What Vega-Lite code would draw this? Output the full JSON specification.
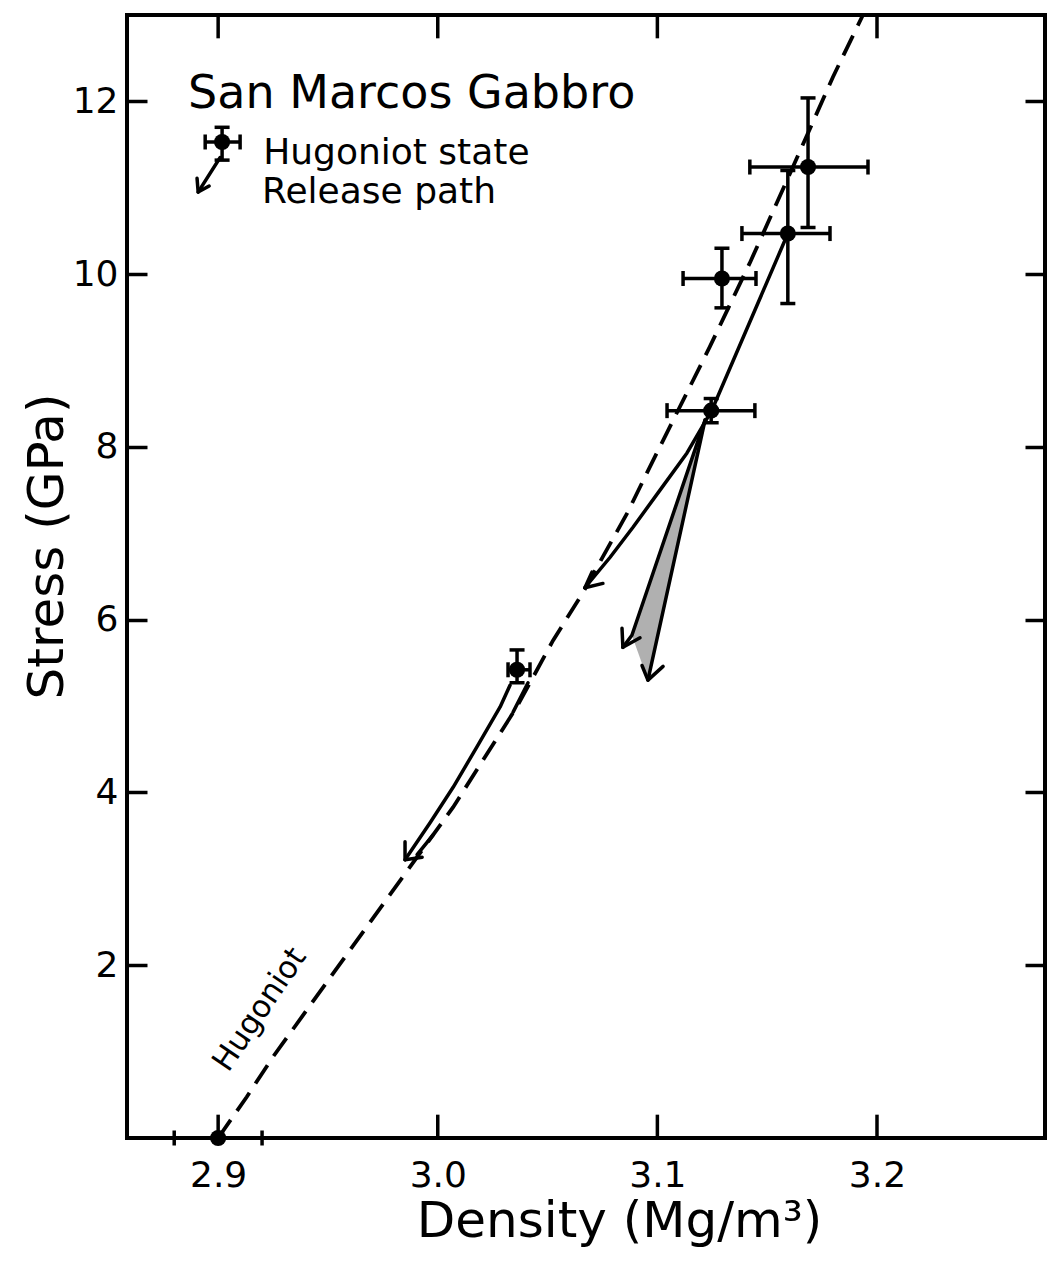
{
  "$schema": "https://vega.github.io/schema/vega-lite/v6.json",
  "width": 918,
  "height": 1123,
  "autosize": {"type": "none"},
  "padding": {"left": 127, "top": 15, "right": 2, "bottom": 125},
  "background": "white",
  "config": {"view": {"stroke": "black", "strokeWidth": 4}, "font": "DejaVu Sans"},
  "datasets": {
    "hug": [
      {"d": 2.900, "s": 0}, {"d": 2.913, "s": 0.475}, {"d": 2.925, "s": 0.94},
      {"d": 2.984, "s": 3.02}, {"d": 3.007, "s": 3.83}, {"d": 3.036, "s": 4.99},
      {"d": 3.0525, "s": 5.76}, {"d": 3.066, "s": 6.31}, {"d": 3.0862, "s": 7.23},
      {"d": 3.0966, "s": 7.77}, {"d": 3.1239, "s": 9.16}, {"d": 3.1421, "s": 10.13},
      {"d": 3.1617, "s": 11.24}, {"d": 3.1799, "s": 12.28}, {"d": 3.1936, "s": 13.0}
    ],
    "xticks": [{"d": 2.9}, {"d": 3.0}, {"d": 3.1}, {"d": 3.2}],
    "pts": [
      {"g": "A", "d": 3.1686, "s": 11.24, "dlo": 3.1421, "dhi": 3.1959, "slo": 10.54, "shi": 12.04},
      {"g": "B", "d": 3.1594, "s": 10.47, "dlo": 3.1385, "dhi": 3.1786, "slo": 9.66, "shi": 11.20},
      {"g": "C", "d": 3.1294, "s": 9.95, "dlo": 3.1117, "dhi": 3.1449, "slo": 9.61, "shi": 10.30},
      {"g": "D", "d": 3.1245, "s": 8.42, "dlo": 3.1044, "dhi": 3.1444, "slo": 8.28, "shi": 8.56},
      {"g": "E", "d": 3.0361, "s": 5.42, "dlo": 3.032, "dhi": 3.042, "slo": 5.27, "shi": 5.65},
      {"g": "F", "d": 2.900, "s": 0, "dlo": 2.880, "dhi": 2.920, "slo": null, "shi": null},
      {"g": "legend", "d": 2.9018, "s": 11.53, "dlo": 2.8941, "dhi": 2.9100, "slo": 11.32, "shi": 11.70}
    ],
    "paths": [
      {"p": "relB", "i": 0, "d": 3.1594, "s": 10.47},
      {"p": "relB", "i": 1, "d": 3.1249, "s": 8.43},
      {"p": "relB", "i": 2, "d": 3.1135, "s": 7.93},
      {"p": "relB", "i": 3, "d": 3.1012, "s": 7.50},
      {"p": "relB", "i": 4, "d": 3.0889, "s": 7.07},
      {"p": "relB", "i": 5, "d": 3.0784, "s": 6.72},
      {"p": "relB", "i": 6, "d": 3.0670, "s": 6.37},
      {"p": "arrB", "i": 0, "d": 3.0702, "s": 6.55},
      {"p": "arrB", "i": 1, "d": 3.0670, "s": 6.37},
      {"p": "arrB", "i": 2, "d": 3.0752, "s": 6.42},
      {"p": "wL", "i": 0, "d": 3.1217, "s": 8.31},
      {"p": "wL", "i": 1, "d": 3.0884, "s": 5.82},
      {"p": "wL", "i": 2, "d": 3.0843, "s": 5.68},
      {"p": "arrWL", "i": 0, "d": 3.0839, "s": 5.90},
      {"p": "arrWL", "i": 1, "d": 3.0843, "s": 5.68},
      {"p": "arrWL", "i": 2, "d": 3.0921, "s": 5.79},
      {"p": "wR", "i": 0, "d": 3.1217, "s": 8.31},
      {"p": "wR", "i": 1, "d": 3.0957, "s": 5.30},
      {"p": "arrWR", "i": 0, "d": 3.0930, "s": 5.47},
      {"p": "arrWR", "i": 1, "d": 3.0957, "s": 5.30},
      {"p": "arrWR", "i": 2, "d": 3.1026, "s": 5.46},
      {"p": "relE", "i": 0, "d": 3.0329, "s": 5.24},
      {"p": "relE", "i": 1, "d": 3.0284, "s": 4.99},
      {"p": "relE", "i": 2, "d": 3.0179, "s": 4.53},
      {"p": "relE", "i": 3, "d": 3.0070, "s": 4.06},
      {"p": "relE", "i": 4, "d": 2.9965, "s": 3.65},
      {"p": "relE", "i": 5, "d": 2.9851, "s": 3.22},
      {"p": "arrE", "i": 0, "d": 2.9851, "s": 3.43},
      {"p": "arrE", "i": 1, "d": 2.9851, "s": 3.22},
      {"p": "arrE", "i": 2, "d": 2.9929, "s": 3.25},
      {"p": "hookE", "i": 0, "d": 3.0411, "s": 5.27},
      {"p": "hookE", "i": 1, "d": 3.0343, "s": 4.93},
      {"p": "hookE2", "i": 0, "d": 2.9979, "s": 3.51},
      {"p": "hookE2", "i": 1, "d": 2.9906, "s": 3.28},
      {"p": "legRel", "i": 0, "d": 2.9009, "s": 11.35},
      {"p": "legRel", "i": 1, "d": 2.8909, "s": 10.95},
      {"p": "legArr", "i": 0, "d": 2.8904, "s": 11.11},
      {"p": "legArr", "i": 1, "d": 2.8909, "s": 10.95},
      {"p": "legArr", "i": 2, "d": 2.8959, "s": 11.02}
    ],
    "wedge": [
      {"s": 8.31, "xl": 3.1217, "xr": 3.1217},
      {"s": 5.82, "xl": 3.0884, "xr": 3.1002},
      {"s": 5.30, "xl": 3.0957, "xr": 3.0957}
    ],
    "labels": [
      {"k": "title", "d": 2.8863, "s": 11.92, "t": "San Marcos Gabbro"},
      {"k": "leg", "d": 2.9205, "s": 11.28, "t": "Hugoniot state"},
      {"k": "leg", "d": 2.9200, "s": 10.82, "t": "Release path"},
      {"k": "hl", "d": 2.9046, "s": 0.75, "t": "Hugoniot"}
    ]
  },
  "resolve": {"axis": {"x": "independent", "y": "independent"}},
  "layer": [
    {
      "data": {"name": "hug"},
      "mark": {"type": "line", "strokeDash": [22, 11], "strokeWidth": 3.8, "color": "black"},
      "encoding": {
        "x": {"field": "d", "type": "quantitative",
          "scale": {"domain": [2.8585, 3.2765], "nice": false, "zero": false},
          "axis": {"orient": "bottom", "values": [2.9, 3.0, 3.1, 3.2], "format": ".1f", "ticks": false,
            "domain": false, "grid": false,
            "labelFontSize": 36, "labelColor": "black", "labelPadding": 20, "labelFont": "DejaVu Sans",
            "title": "Density (Mg/m³)", "titleFontSize": 50, "titleFontWeight": "normal", "titleColor": "black",
            "titleFont": "DejaVu Sans", "titleX": 492, "titleY": 98, "titleBaseline": "alphabetic", "titleAlign": "center"}},
        "y": {"field": "s", "type": "quantitative",
          "scale": {"domain": [0, 13], "nice": false, "zero": false},
          "axis": {"orient": "left", "values": [2, 4, 6, 8, 10, 12], "format": "d", "ticks": true, "zindex": 1,
            "tickSize": -20, "tickWidth": 3.5, "tickColor": "black", "domain": false, "grid": false,
            "labelFontSize": 36, "labelColor": "black", "labelPadding": 29, "labelFont": "DejaVu Sans",
            "title": "Stress (GPa)", "titleFontSize": 50, "titleFontWeight": "normal", "titleColor": "black",
            "titleFont": "DejaVu Sans", "titleX": -65, "titleY": 531, "titleAngle": -90,
            "titleBaseline": "alphabetic", "titleAlign": "center"}},
        "order": {"field": "s", "type": "quantitative"}
      }
    },
    {
      "data": {"name": "xticks"},
      "mark": {"type": "rule", "strokeWidth": 3.5, "color": "black"},
      "encoding": {
        "x": {"field": "d", "type": "quantitative", "axis": null},
        "y": {"datum": 0, "type": "quantitative", "axis": null},
        "y2": {"datum": 0.27}
      }
    },
    {
      "data": {"name": "xticks"},
      "mark": {"type": "rule", "strokeWidth": 3.5, "color": "black"},
      "encoding": {
        "x": {"field": "d", "type": "quantitative", "axis": null},
        "y": {"datum": 13, "type": "quantitative", "axis": null},
        "y2": {"datum": 12.73}
      }
    },
    {
      "data": {"name": "wedge"},
      "mark": {"type": "area", "orient": "horizontal", "color": "#b0b0b0"},
      "encoding": {
        "y": {"field": "s", "type": "quantitative", "axis": null},
        "x": {"field": "xl", "type": "quantitative", "axis": null},
        "x2": {"field": "xr"}
      }
    },
    {
      "data": {"name": "paths"},
      "mark": {"type": "line", "strokeWidth": 3.5, "color": "black", "strokeCap": "round", "strokeJoin": "round"},
      "encoding": {
        "x": {"field": "d", "type": "quantitative", "axis": null},
        "y": {"field": "s", "type": "quantitative", "axis": null},
        "detail": {"field": "p", "type": "nominal"},
        "order": {"field": "i", "type": "quantitative"}
      }
    },
    {
      "data": {"name": "pts"},
      "mark": {"type": "rule", "strokeWidth": 3.5, "color": "black"},
      "encoding": {
        "x": {"field": "dlo", "type": "quantitative", "axis": null},
        "x2": {"field": "dhi"},
        "y": {"field": "s", "type": "quantitative", "axis": null}
      }
    },
    {
      "data": {"name": "pts"},
      "mark": {"type": "rule", "strokeWidth": 3.5, "color": "black"},
      "encoding": {
        "x": {"field": "d", "type": "quantitative", "axis": null},
        "y": {"field": "slo", "type": "quantitative", "axis": null},
        "y2": {"field": "shi"}
      }
    },
    {
      "data": {"name": "pts"},
      "mark": {"type": "tick", "orient": "vertical", "size": 15, "thickness": 3.5, "color": "black", "opacity": 1},
      "encoding": {
        "x": {"field": "dlo", "type": "quantitative", "axis": null},
        "y": {"field": "s", "type": "quantitative", "axis": null}
      }
    },
    {
      "data": {"name": "pts"},
      "mark": {"type": "tick", "orient": "vertical", "size": 15, "thickness": 3.5, "color": "black", "opacity": 1},
      "encoding": {
        "x": {"field": "dhi", "type": "quantitative", "axis": null},
        "y": {"field": "s", "type": "quantitative", "axis": null}
      }
    },
    {
      "data": {"name": "pts"},
      "mark": {"type": "tick", "orient": "horizontal", "size": 15, "thickness": 3.5, "color": "black", "opacity": 1},
      "encoding": {
        "x": {"field": "d", "type": "quantitative", "axis": null},
        "y": {"field": "slo", "type": "quantitative", "axis": null}
      }
    },
    {
      "data": {"name": "pts"},
      "mark": {"type": "tick", "orient": "horizontal", "size": 15, "thickness": 3.5, "color": "black", "opacity": 1},
      "encoding": {
        "x": {"field": "d", "type": "quantitative", "axis": null},
        "y": {"field": "shi", "type": "quantitative", "axis": null}
      }
    },
    {
      "data": {"name": "pts"},
      "mark": {"type": "circle", "size": 260, "color": "black", "opacity": 1},
      "encoding": {
        "x": {"field": "d", "type": "quantitative",
          "scale": {"domain": [2.8585, 3.2765], "nice": false, "zero": false},
          "axis": null},
        "y": {"field": "s", "type": "quantitative",
          "scale": {"domain": [0, 13], "nice": false, "zero": false},
          "axis": {"orient": "right", "values": [2, 4, 6, 8, 10, 12], "labels": false, "ticks": true, "zindex": 1,
            "tickSize": -20, "tickWidth": 3.5, "tickColor": "black", "domain": false, "grid": false, "title": null}}
      }
    },
    {
      "data": {"name": "labels"},
      "transform": [{"filter": "datum.k == 'title'"}],
      "mark": {"type": "text", "fontSize": 46, "align": "left", "baseline": "alphabetic", "color": "black", "font": "DejaVu Sans"},
      "encoding": {
        "x": {"field": "d", "type": "quantitative", "axis": null},
        "y": {"field": "s", "type": "quantitative", "axis": null},
        "text": {"field": "t"}
      }
    },
    {
      "data": {"name": "labels"},
      "transform": [{"filter": "datum.k == 'leg'"}],
      "mark": {"type": "text", "fontSize": 36, "align": "left", "baseline": "alphabetic", "color": "black", "font": "DejaVu Sans"},
      "encoding": {
        "x": {"field": "d", "type": "quantitative", "axis": null},
        "y": {"field": "s", "type": "quantitative", "axis": null},
        "text": {"field": "t"}
      }
    },
    {
      "data": {"name": "labels"},
      "transform": [{"filter": "datum.k == 'hl'"}],
      "mark": {"type": "text", "fontSize": 31, "align": "left", "baseline": "alphabetic", "angle": -56, "color": "black", "font": "DejaVu Sans"},
      "encoding": {
        "x": {"field": "d", "type": "quantitative", "axis": null},
        "y": {"field": "s", "type": "quantitative", "axis": null},
        "text": {"field": "t"}
      }
    }
  ]
}
